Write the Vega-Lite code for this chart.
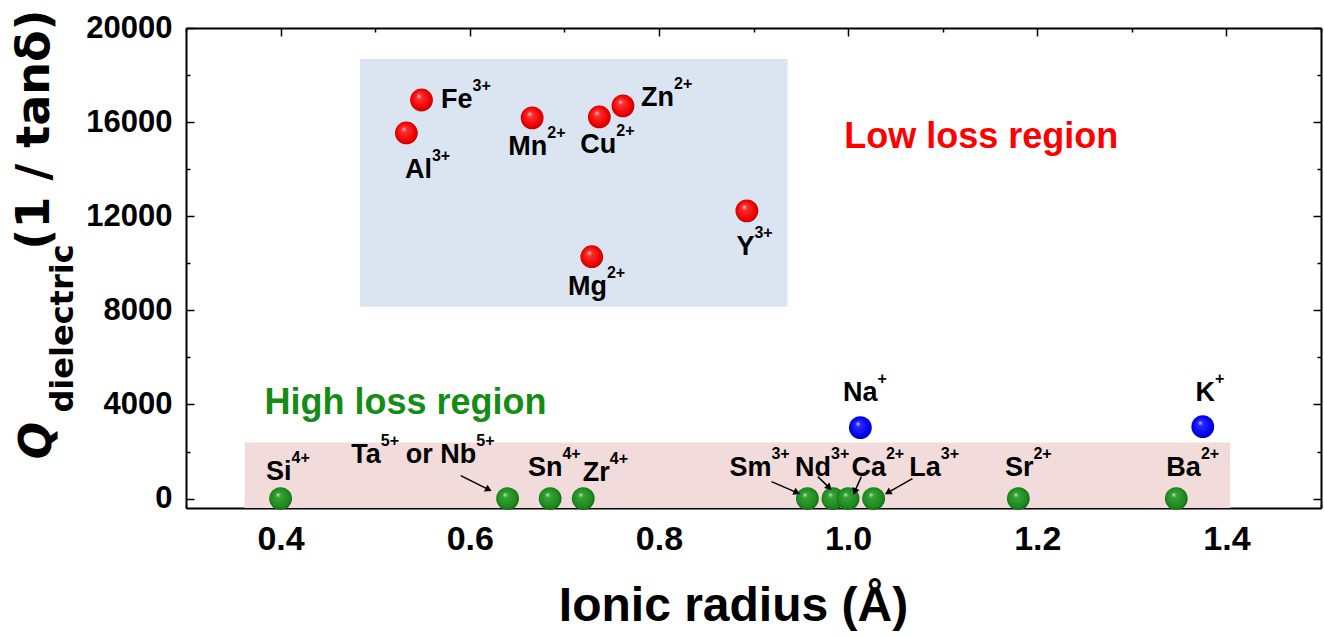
{
  "$schema": "https://vega.github.io/schema/vega-lite/v6.json",
  "width": 1135,
  "height": 480,
  "autosize": "none",
  "padding": {"left": 186, "top": 28, "right": 3, "bottom": 129},
  "background": "white",
  "config": {
    "view": {"stroke": null},
    "axis": {
      "domainColor": "black", "domainWidth": 2, "tickColor": "black", "tickWidth": 1.5,
      "grid": false, "labelFont": "Liberation Sans", "labelFontWeight": "bold",
      "labelFontSize": 31, "labelColor": "black", "zindex": 1, "titleColor": "black"
    }
  },
  "datasets": {
    "ions": [
      {"ion": "Fe", "r": 0.549, "Q": 16940, "group": "low"},
      {"ion": "Al", "r": 0.533, "Q": 15540, "group": "low"},
      {"ion": "Mn", "r": 0.666, "Q": 16180, "group": "low"},
      {"ion": "Cu", "r": 0.737, "Q": 16220, "group": "low"},
      {"ion": "Zn", "r": 0.762, "Q": 16690, "group": "low"},
      {"ion": "Y", "r": 0.893, "Q": 12230, "group": "low"},
      {"ion": "Mg", "r": 0.729, "Q": 10280, "group": "low"},
      {"ion": "Si", "r": 0.40, "Q": 0, "group": "high"},
      {"ion": "Ta/Nb", "r": 0.64, "Q": 0, "group": "high"},
      {"ion": "Sn", "r": 0.685, "Q": 0, "group": "high"},
      {"ion": "Zr", "r": 0.72, "Q": 0, "group": "high"},
      {"ion": "Sm", "r": 0.957, "Q": 0, "group": "high"},
      {"ion": "Nd", "r": 0.984, "Q": 0, "group": "high"},
      {"ion": "Ca", "r": 1.0, "Q": 0, "group": "high"},
      {"ion": "La", "r": 1.027, "Q": 0, "group": "high"},
      {"ion": "Sr", "r": 1.18, "Q": 0, "group": "high"},
      {"ion": "Ba", "r": 1.347, "Q": 0, "group": "high"},
      {"ion": "Na", "r": 1.013, "Q": 3015, "group": "alkali"},
      {"ion": "K", "r": 1.375, "Q": 3057, "group": "alkali"}
    ],
    "regions": [
      {"region": "low", "r1": 0.484, "r2": 0.936, "q1": 8150, "q2": 18680},
      {"region": "high", "r1": 0.362, "r2": 1.404, "q1": -400, "q2": 2380}
    ],
    "notes": [
      {"text": "Low loss region", "r": 0.996, "Q": 15370, "region": "low"},
      {"text": "High loss region", "r": 0.383, "Q": 4076, "region": "high"}
    ],
    "labels": [
      {"base": "Fe", "sup": "3+", "lx": 0.603, "ly": 16940},
      {"base": "Al", "sup": "3+", "lx": 0.560, "ly": 13970},
      {"base": "Mn", "sup": "2+", "lx": 0.682, "ly": 14950},
      {"base": "Cu", "sup": "2+", "lx": 0.755, "ly": 15030},
      {"base": "Zn", "sup": "2+", "lx": 0.816, "ly": 17030},
      {"base": "Y", "sup": "3+", "lx": 0.901, "ly": 10700},
      {"base": "Mg", "sup": "2+", "lx": 0.745, "ly": 9000},
      {"base": "Si", "sup": "4+", "lx": 0.4116, "ly": 1146},
      {"base": "Ta", "sup": "5+", "lx": 0.506, "ly": 1868},
      {"base": "or Nb", "sup": "5+", "lx": 0.607, "ly": 1868},
      {"base": "Sn", "sup": "4+", "lx": 0.698, "ly": 1316},
      {"base": "Zr", "sup": "4+", "lx": 0.748, "ly": 1104},
      {"base": "Sm", "sup": "3+", "lx": 0.919, "ly": 1316},
      {"base": "Nd", "sup": "3+", "lx": 0.982, "ly": 1316},
      {"base": "Ca", "sup": "2+", "lx": 1.04, "ly": 1316},
      {"base": "La", "sup": "3+", "lx": 1.098, "ly": 1316},
      {"base": "Sr", "sup": "2+", "lx": 1.196, "ly": 1316},
      {"base": "Ba", "sup": "2+", "lx": 1.373, "ly": 1316},
      {"base": "Na", "sup": "+", "lx": 1.031, "ly": 4500},
      {"base": "K", "sup": "+", "lx": 1.388, "ly": 4500}
    ],
    "arrows": [
      {"to": "Ta/Nb", "xa": 0.5905, "ya": 977, "xb": 0.620, "yb": 382, "ang": 117},
      {"to": "Sm", "xa": 0.919, "ya": 722, "xb": 0.946, "yb": 255, "ang": 113},
      {"to": "Nd", "xa": 0.968, "ya": 934, "xb": 0.980, "yb": 467, "ang": 135},
      {"to": "Ca", "xa": 1.014, "ya": 934, "xb": 1.007, "yb": 297, "ang": 202},
      {"to": "La", "xa": 1.068, "ya": 849, "xb": 1.042, "yb": 255, "ang": 241}
    ]
  },
  "resolve": {"axis": {"x": "independent", "y": "independent"}},
  "layer": [
    {
      "data": {"name": "regions"},
      "transform": [{"filter": "datum.region === 'low'"}],
      "mark": {"type": "rect", "fill": "#dbe5f1"},
      "encoding": {
        "x": {"field": "r1", "type": "quantitative",
          "scale": {"domain": [0.3, 1.5], "nice": false, "zero": false},
          "axis": {"orient": "bottom", "values": [0.4, 0.6, 0.8, 1.0, 1.2, 1.4], "format": ".1f",
            "tickSize": -8, "labelPadding": 22, "labelFontSize": 34,
            "title": "Ionic radius (Å)", "titleFont": "Liberation Sans", "titleFontWeight": "bold",
            "titleFontSize": 48, "titleX": 547, "titleY": 112, "titleAlign": "center", "titleBaseline": "alphabetic"}},
        "x2": {"field": "r2"},
        "y": {"field": "q1", "type": "quantitative",
          "scale": {"domain": [-400, 20000], "nice": false, "zero": false},
          "axis": {"orient": "left", "values": [0, 4000, 8000, 12000, 16000, 20000], "format": "d",
            "tickSize": -8, "labelPadding": 22,
            "title": "(1 / tanδ)", "titleFont": "DejaVu Sans", "titleFontWeight": "bold", "titleFontSize": 46,
            "titleAngle": 270, "titleX": -138, "titleY": 101, "titleAlign": "center", "titleBaseline": "alphabetic"}},
        "y2": {"field": "q2"}
      }
    },
    {
      "data": {"name": "regions"},
      "transform": [{"filter": "datum.region === 'high'"}],
      "mark": {"type": "rect", "fill": "#f2dcdb"},
      "encoding": {
        "x": {"field": "r1", "type": "quantitative",
          "scale": {"domain": [0.3, 1.5], "nice": false, "zero": false},
          "axis": {"orient": "bottom", "values": [0.3, 0.5, 0.7, 0.9, 1.1, 1.3, 1.5], "labels": false,
            "tickSize": -4, "domain": false, "title": null}},
        "x2": {"field": "r2"},
        "y": {"field": "q1", "type": "quantitative",
          "scale": {"domain": [-400, 20000], "nice": false, "zero": false},
          "axis": {"orient": "left", "values": [2000, 6000, 10000, 14000, 18000], "labels": false,
            "tickSize": -4, "domain": false, "title": null}},
        "y2": {"field": "q2"}
      }
    },
    {
      "data": {"name": "ions"},
      "transform": [{"filter": "datum.group === 'low'"}],
      "mark": {"type": "circle", "size": 520, "opacity": 1,
        "fill": {"gradient": "radial", "x1": 0.38, "y1": 0.32, "r1": 0, "x2": 0.5, "y2": 0.5, "r2": 0.55,
          "stops": [{"offset": 0, "color": "#ffe0e0"}, {"offset": 0.2, "color": "#ff3030"},
                    {"offset": 0.75, "color": "#ee0000"}, {"offset": 1, "color": "#b00000"}]}},
      "encoding": {
        "x": {"field": "r", "type": "quantitative",
          "scale": {"domain": [0.3, 1.5], "nice": false, "zero": false},
          "axis": {"orient": "top", "values": [0.4, 0.6, 0.8, 1.0, 1.2, 1.4], "labels": false,
            "tickSize": -8, "title": null}},
        "y": {"field": "Q", "type": "quantitative",
          "scale": {"domain": [-400, 20000], "nice": false, "zero": false},
          "axis": {"orient": "right", "values": [0, 4000, 8000, 12000, 16000, 20000], "labels": false,
            "tickSize": -8, "domain": true, "title": null}}
      }
    },
    {
      "data": {"name": "ions"},
      "transform": [{"filter": "datum.group === 'high'"}],
      "mark": {"type": "circle", "size": 520, "opacity": 1,
        "fill": {"gradient": "radial", "x1": 0.38, "y1": 0.32, "r1": 0, "x2": 0.5, "y2": 0.5, "r2": 0.55,
          "stops": [{"offset": 0, "color": "#c8ecc8"}, {"offset": 0.2, "color": "#36a336"},
                    {"offset": 0.75, "color": "#1f8a1f"}, {"offset": 1, "color": "#0e5e0e"}]}},
      "encoding": {
        "x": {"field": "r", "type": "quantitative",
          "scale": {"domain": [0.3, 1.5], "nice": false, "zero": false},
          "axis": {"orient": "top", "values": [0.3, 0.5, 0.7, 0.9, 1.1, 1.3, 1.5], "labels": false,
            "tickSize": -4, "domain": false, "title": null}},
        "y": {"field": "Q", "type": "quantitative",
          "scale": {"domain": [-400, 20000], "nice": false, "zero": false},
          "axis": {"orient": "right", "values": [2000, 6000, 10000, 14000, 18000], "labels": false,
            "tickSize": -4, "domain": false, "title": null}}
      }
    },
    {
      "data": {"name": "ions"},
      "transform": [{"filter": "datum.group === 'alkali'"}],
      "mark": {"type": "circle", "size": 520, "opacity": 1,
        "fill": {"gradient": "radial", "x1": 0.38, "y1": 0.32, "r1": 0, "x2": 0.5, "y2": 0.5, "r2": 0.55,
          "stops": [{"offset": 0, "color": "#d0d0ff"}, {"offset": 0.2, "color": "#2a2aff"},
                    {"offset": 0.75, "color": "#0000ee"}, {"offset": 1, "color": "#0000a8"}]}},
      "encoding": {
        "x": {"field": "r", "type": "quantitative",
          "scale": {"domain": [0.3, 1.5], "nice": false, "zero": false}, "axis": null},
        "y": {"field": "Q", "type": "quantitative",
          "scale": {"domain": [-400, 20000], "nice": false, "zero": false},
          "axis": {"orient": "left", "labels": false, "ticks": false, "domain": false,
            "title": "Q", "titleFont": "DejaVu Sans", "titleFontStyle": "italic", "titleFontWeight": "bold",
            "titleFontSize": 44, "titleAngle": 270, "titleX": -136, "titleY": 412,
            "titleAlign": "center", "titleBaseline": "alphabetic"}}
      }
    },
    {
      "data": {"name": "arrows"},
      "mark": {"type": "rule", "color": "black", "strokeWidth": 1.5},
      "encoding": {
        "x": {"field": "xa", "type": "quantitative",
          "scale": {"domain": [0.3, 1.5], "nice": false, "zero": false}, "axis": null},
        "x2": {"field": "xb"},
        "y": {"field": "ya", "type": "quantitative",
          "scale": {"domain": [-400, 20000], "nice": false, "zero": false},
          "axis": {"orient": "left", "labels": false, "ticks": false, "domain": false,
            "title": "dielectric", "titleFont": "DejaVu Sans", "titleFontWeight": "bold",
            "titleFontSize": 32, "titleAngle": 270, "titleX": -114, "titleY": 300,
            "titleAlign": "center", "titleBaseline": "alphabetic"}},
        "y2": {"field": "yb"}
      }
    },
    {
      "data": {"name": "arrows"},
      "mark": {"type": "point", "shape": "triangle-up", "filled": true, "size": 60, "color": "black", "opacity": 1},
      "encoding": {
        "x": {"field": "xb", "type": "quantitative",
          "scale": {"domain": [0.3, 1.5], "nice": false, "zero": false}, "axis": null},
        "y": {"field": "yb", "type": "quantitative",
          "scale": {"domain": [-400, 20000], "nice": false, "zero": false}, "axis": null},
        "angle": {"field": "ang", "type": "quantitative", "scale": null}
      }
    },
    {
      "data": {"name": "labels"},
      "mark": {"type": "text", "align": "right", "baseline": "middle", "font": "Liberation Sans",
        "fontWeight": "bold", "fontSize": 27, "color": "black"},
      "encoding": {
        "x": {"field": "lx", "type": "quantitative",
          "scale": {"domain": [0.3, 1.5], "nice": false, "zero": false}, "axis": null},
        "y": {"field": "ly", "type": "quantitative",
          "scale": {"domain": [-400, 20000], "nice": false, "zero": false}, "axis": null},
        "text": {"field": "base"}
      }
    },
    {
      "data": {"name": "labels"},
      "mark": {"type": "text", "align": "left", "baseline": "middle", "font": "Liberation Sans",
        "fontWeight": "bold", "fontSize": 16, "dy": -14, "color": "black"},
      "encoding": {
        "x": {"field": "lx", "type": "quantitative",
          "scale": {"domain": [0.3, 1.5], "nice": false, "zero": false}, "axis": null},
        "y": {"field": "ly", "type": "quantitative",
          "scale": {"domain": [-400, 20000], "nice": false, "zero": false}, "axis": null},
        "text": {"field": "sup"}
      }
    },
    {
      "data": {"name": "notes"},
      "mark": {"type": "text", "align": "left", "baseline": "middle", "font": "Liberation Sans",
        "fontWeight": "bold", "fontSize": 36},
      "encoding": {
        "x": {"field": "r", "type": "quantitative",
          "scale": {"domain": [0.3, 1.5], "nice": false, "zero": false}, "axis": null},
        "y": {"field": "Q", "type": "quantitative",
          "scale": {"domain": [-400, 20000], "nice": false, "zero": false}, "axis": null},
        "text": {"field": "text"},
        "color": {"field": "region", "type": "nominal",
          "scale": {"domain": ["low", "high"], "range": ["#ff0000", "#158c15"]}, "legend": null}
      }
    }
  ]
}
